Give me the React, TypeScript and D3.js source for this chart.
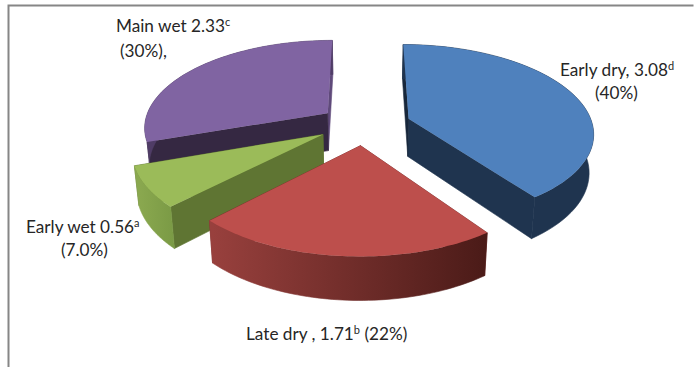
import React from "react";
import * as d3 from "d3";

// Seasonal shares, clockwise from the top of the pie
const seasons = ["Early dry", "Late dry", "Early wet", "Main wet"];
const values = [3.08, 1.71, 0.56, 2.33];
const topColors = ["#4f81bd", "#bd4f4c", "#9bbb59", "#8064a2"];
const frontColors = ["#1f344f", "#7a2e2b", "#5f7533", "#352842"];
const backColors = ["#17273b", "#7a2e2b", "#5f7533", "#5f4a7a"];
const sideFrom = ["#1f344f", "#98403d", "#8aa84f", "#4f3c66"];
const sideTo = ["#1f344f", "#4b1b18", "#7a9a45", "#4f3c66"];
const drawOrder = [3, 0, 2, 1];

// Perspective pie projection
const cx = 367;
const cy = 125;
const rx = 184;
const ry = 87;
const k = 0.15;
const depth = 38;
const explode = 0.24;
const bottomScale = 0.98;
// Extra screen shift applied to each exploded slice
const shiftX = [0, -3, -6, -4];
const shiftY = [0, -1, -2, 0];

type Pt = [number, number];

function project(x: number, y: number, z: number): Pt {
  const w = 1 / (1 - k * y);
  const s = z > 0 ? bottomScale : 1;
  return [cx + rx * x * w * s, cy + ry * y * w * s + z * depth * w];
}

const pie = d3.pie<number>().sort(null);
const arcs = pie(values);
const line = d3.line<Pt>();
const closed = (pts: Pt[]) => (line(pts) ?? "") + "Z";

function sliceGeometry(a: d3.PieArcDatum<number>, index: number) {
  const mid = (a.startAngle + a.endAngle) / 2;
  const ox = Math.sin(mid) * explode;
  const oy = -Math.cos(mid) * explode;
  const angles = d3.range(0, 61).map((i) => a.startAngle + ((a.endAngle - a.startAngle) * i) / 60);
  const shifted = ([x, y]: Pt): Pt => [x + shiftX[index], y + shiftY[index]];
  const rim = (z: number) =>
    angles.map((t) => shifted(project(ox + Math.sin(t), oy - Math.cos(t), z)));
  const apex = (z: number) => shifted(project(ox, oy, z));
  const top = rim(0);
  const bottom = rim(1);
  return {
    top: closed([apex(0), ...top]),
    outer: closed([...top, ...bottom.slice().reverse()]),
    startFace: closed([apex(0), top[0], bottom[0], apex(1)]),
    endFace: closed([apex(0), top[60], bottom[60], apex(1)]),
    minX: d3.min(bottom, (p) => p[0]) ?? 0,
    maxX: d3.max(bottom, (p) => p[0]) ?? 0,
  };
}

const font = "Lato, 'Open Sans', sans-serif";
const textColor = "#262626";

function Sup({ children }: { children: string }) {
  return (
    <tspan dy={-6} fontSize={11}>
      {children}
    </tspan>
  );
}

export default function App() {
  const slices = arcs.map(sliceGeometry);
  return (
    <svg
      width={694}
      height={367}
      style={{ position: "absolute", left: 0, top: 0, background: "#fff" }}
      fontFamily={font}
      fontSize={17.2}
      fill={textColor}
    >
      <defs>
        {slices.map((s, i) => (
          <linearGradient
            key={seasons[i]}
            id={`side-${i}`}
            gradientUnits="userSpaceOnUse"
            x1={s.minX}
            x2={s.maxX}
            y1={0}
            y2={0}
          >
            <stop offset="0%" stopColor={sideFrom[i]} />
            <stop offset="100%" stopColor={sideTo[i]} />
          </linearGradient>
        ))}
      </defs>

      <path d="M693.5 5.5H8.5V367" fill="none" stroke="#868686" strokeWidth={2} />

      {drawOrder.map((i) => {
        const endFill = i === 3 ? backColors[i] : frontColors[i];
        const startFill = i === 3 ? frontColors[i] : backColors[i];
        return (
          <g key={seasons[i]} strokeWidth={0.6} strokeLinejoin="round">
            <path d={slices[i].endFace} fill={endFill} stroke={endFill} />
            <path d={slices[i].startFace} fill={startFill} stroke={startFill} />
            <path d={slices[i].outer} fill={`url(#side-${i})`} stroke={`url(#side-${i})`} />
            <path d={slices[i].top} fill={topColors[i]} />
          </g>
        );
      })}

      <text x={116} y={32}>
        Main wet 2.33<Sup>c</Sup>
      </text>
      <text x={120} y={57}>(30%),</text>
      <text x={560} y={76}>
        Early dry, 3.08<Sup>d</Sup>
      </text>
      <text x={595} y={99}>(40%)</text>
      <text x={26} y={233}>
        Early wet 0.56<Sup>a</Sup>
      </text>
      <text x={61} y={256}>(7.0%)</text>
      <text x={246} y={340}>
        Late dry , 1.71<Sup>b</Sup>
        <tspan dy={6}> (22%)</tspan>
      </text>
    </svg>
  );
}
